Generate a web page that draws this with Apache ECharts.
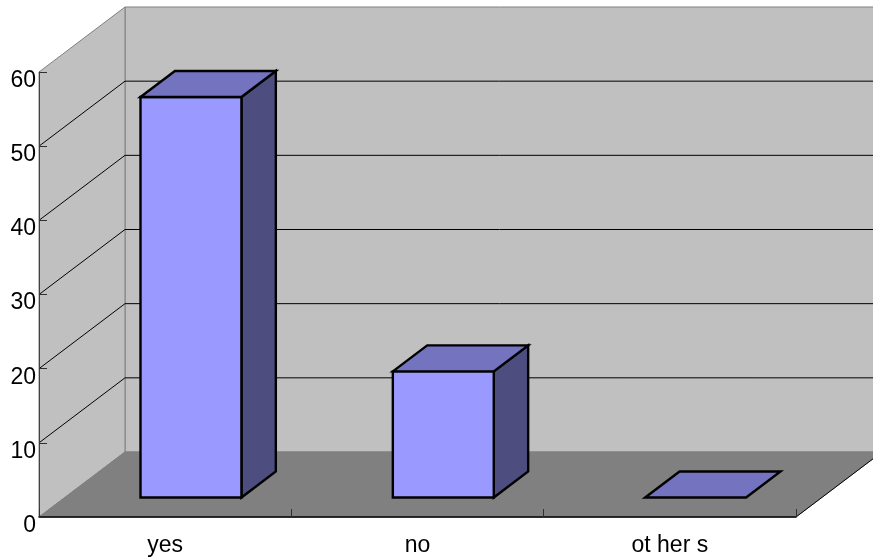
<!DOCTYPE html>
<html>
<head>
<meta charset="utf-8">
<style>html,body{margin:0;padding:0;background:#fff}#chart{width:873px;height:559px}</style>
<script src="https://cdn.jsdelivr.net/npm/echarts@6/dist/echarts.min.js"></script>
</head>
<body>
<div id="chart"></div>
<script>
// Survey answers and the value axis ticks
const categories = ['yes', 'no', 'ot her s'];
const answerCounts = [54, 17, 0];
const valueTicks = [10, 20, 30, 40, 50];

// Oblique projection of the chart box: how far the back wall is shifted from the front plane
const BOX_DX = 86;
const BOX_DY = -65;
const BAR_FRONT = 0.3;   // bars start this far into the box
const BAR_DEPTH = 0.4;   // bars occupy this share of the box depth
const BAR_WIDTH = 0.4;   // share of a category band

const WALL = '#c0c0c0', FLOOR = '#808080', EDGE = '#808080';
const FRONT = '#9999ff', TOP = '#7373bf', SIDE = '#4d4d80';

const poly = (points, fill, stroke, lineWidth) => ({
  type: 'polygon',
  shape: { points },
  style: { fill, stroke: stroke || 'none', lineWidth: lineWidth || 0, lineJoin: 'miter' }
});

const shift = (p, f) => [p[0] + BOX_DX * f, p[1] + BOX_DY * f];

// Left and right ends of the category axis, taken from the first and last bands
function axisEnds(api, value) {
  const band = api.size([1, 0])[0];
  const first = api.coord([0, value]);
  const last = api.coord([categories.length - 1, value]);
  return [[first[0] - band / 2, first[1]], [last[0] + band / 2, last[1]]];
}

// Back wall, left wall and floor of the box
function renderBox(params, api) {
  const [bl, br] = axisEnds(api, 0);
  const [tl, tr] = axisEnds(api, 60);
  return {
    type: 'group',
    children: [
      poly([shift(tl, 1), shift(tr, 1), shift(br, 1), shift(bl, 1)], WALL, EDGE, 1),
      poly([tl, shift(tl, 1), shift(bl, 1), bl], WALL, EDGE, 1),
      poly([bl, shift(bl, 1), shift(br, 1), br], FLOOR, EDGE, 1),
      {
        type: 'line',
        shape: { x1: br[0], y1: br[1], x2: shift(br, 1)[0], y2: shift(br, 1)[1] },
        style: { stroke: '#000', lineWidth: 1 }
      }
    ]
  };
}

// A gridline runs across the left wall, then along the back wall
function renderGridline(params, api) {
  const [a, c] = axisEnds(api, api.value(0));
  return {
    type: 'polyline',
    shape: { points: [a, shift(a, 1), shift(c, 1)] },
    style: { fill: 'none', stroke: '#000', lineWidth: 1 }
  };
}

// One cuboid per category
function renderBar(params, api) {
  const i = api.value(0);
  const base = api.coord([i, 0]);
  const top = api.coord([i, api.value(1)]);
  const half = api.size([1, 0])[0] * BAR_WIDTH / 2;
  const p = (x, y, f) => shift([x, y], BAR_FRONT + f);
  const l = base[0] - half, r = base[0] + half;
  const children = [];
  if (api.value(1) > 0) {
    children.push(
      poly([p(r, top[1], 0), p(r, top[1], BAR_DEPTH), p(r, base[1], BAR_DEPTH), p(r, base[1], 0)], SIDE, '#000', 2.4),
      poly([p(l, base[1], 0), p(r, base[1], 0), p(r, top[1], 0), p(l, top[1], 0)], FRONT, '#000', 2.4)
    );
  }
  children.push(
    poly([p(l, top[1], 0), p(l, top[1], BAR_DEPTH), p(r, top[1], BAR_DEPTH), p(r, top[1], 0)], TOP, '#000', 2.4)
  );
  return { type: 'group', children };
}

const chart = echarts.init(document.getElementById('chart'), null, { renderer: 'canvas' });
const labelFont = { fontFamily: '"Liberation Sans", Arial, sans-serif', fontSize: 23, color: '#000' };

chart.setOption({
  animation: false,
  backgroundColor: '#fff',
  grid: { left: 39, top: 72, width: 757, height: 445, containLabel: false },
  xAxis: {
    type: 'category',
    data: categories,
    z: 20,
    boundaryGap: true,
    axisLine: { lineStyle: { color: '#000', width: 1.5 } },
    axisTick: { show: true, alignWithLabel: false, inside: true, length: 8, lineStyle: { color: '#303030', width: 1 } },
    axisLabel: Object.assign({ margin: 17, interval: 0 }, labelFont),
    splitLine: { show: false }
  },
  yAxis: {
    type: 'value',
    min: 0,
    max: 60,
    interval: 10,
    z: 20,
    axisLine: { show: true, lineStyle: { color: '#404040', width: 1 } },
    axisTick: { show: true, inside: true, length: 8, lineStyle: { color: '#303030', width: 1 } },
    axisLabel: Object.assign({ margin: 3, verticalAlign: 'top', lineHeight: 17 }, labelFont),
    splitLine: { show: false }
  },
  series: [
    { type: 'custom', silent: true, clip: false, z: 1, coordinateSystem: 'cartesian2d',
      renderItem: renderBox, data: [[0, 0]], encode: { x: 0, y: 1 } },
    { type: 'custom', silent: true, clip: false, z: 2, coordinateSystem: 'cartesian2d',
      renderItem: renderGridline, data: valueTicks.map(v => [v]), encode: { y: 0 } },
    { type: 'custom', silent: true, clip: false, z: 3, coordinateSystem: 'cartesian2d',
      renderItem: renderBar, data: answerCounts.map((v, i) => [i, v]), encode: { x: 0, y: 1 } }
  ]
});
</script>
</body>
</html>
